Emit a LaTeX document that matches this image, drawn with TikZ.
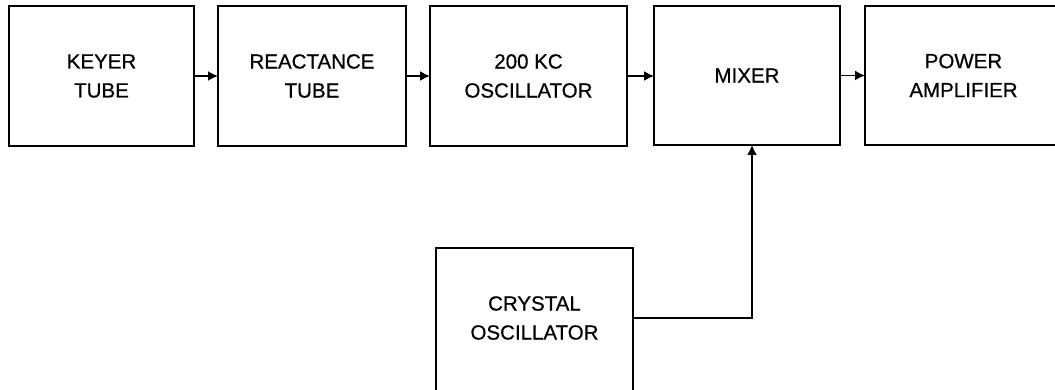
\documentclass[tikz,border=0pt]{standalone}
\usepackage{fontspec}
\setmainfont{Liberation Sans}
\newfontfamily\lettering[FakeBold=0.6]{Liberation Sans}
\usetikzlibrary{arrows.meta}
\tikzset{
  blk/.style={draw, line width=1.5pt, inner sep=0pt, outer sep=0pt,
    minimum height=140pt, align=center,
    font=\lettering\fontsize{20.5}{29}\selectfont},
  arr/.style={line width=1.6pt, -{Latex[length=10pt,width=10pt]}}
}
\begin{document}
\begin{tikzpicture}[x=1pt,y=-1pt]
\useasboundingbox (0,0) rectangle (1055,390);
\clip (0,0) rectangle (1055,390);
\node[blk, minimum width=185pt] (keyer) at (101.5,76) {KEYER\\TUBE};
\node[blk, minimum width=188pt] (react) at (312,76) {REACTANCE\\TUBE};
\node[blk, minimum width=197pt] (osc) at (528.5,76) {200 KC\\OSCILLATOR};
\node[blk, minimum width=186pt, minimum height=139pt] (mixer) at (747,75.5) {MIXER};
\node[blk, minimum width=197pt, minimum height=139pt] (pa) at (963.5,75.5) {POWER\\AMPLIFIER};
\node[blk, minimum width=197pt, minimum height=146pt] (xtal) at (534.5,321) {};
\node[font=\lettering\fontsize{20.5}{29}\selectfont, align=center] (xtaltext) at (534.5,318) {CRYSTAL\\OSCILLATOR};
\draw[arr] (keyer.east) -- (react.west);
\draw[arr] (react.east) -- (osc.west);
\draw[arr] (osc.east) -- (mixer.west |- osc.east);
\draw[arr] (mixer.east) -- (pa.west);
\draw[arr] (xtal.east |- xtaltext) -| ([xshift=5pt]mixer.south);
\end{tikzpicture}
\end{document}
